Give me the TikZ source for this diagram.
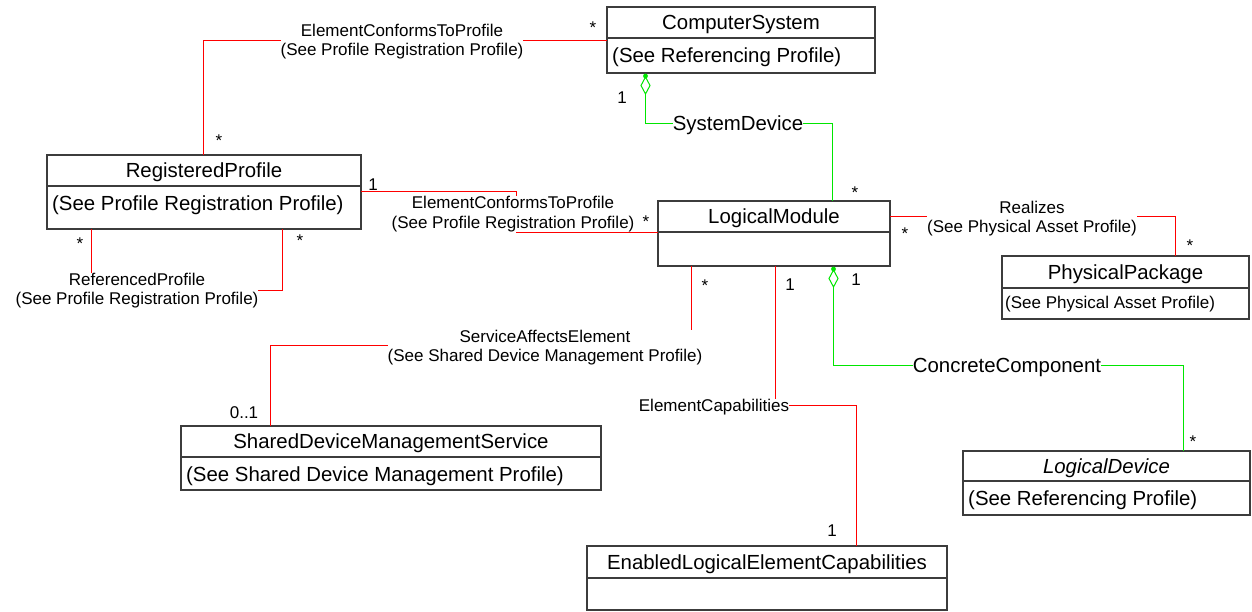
\documentclass[tikz,border=0pt]{standalone}
\usepackage{fontspec}
\setmainfont{Liberation Sans}
\usetikzlibrary{shapes.geometric,calc}

\definecolor{assocred}{RGB}{255,0,0}
\definecolor{aggreen}{RGB}{0,230,0}
\definecolor{boxline}{RGB}{60,60,60}

\tikzset{
  classhead/.style={draw=boxline, line width=1.1pt, fill=white, inner sep=0pt, outer sep=0pt,
    font=\fontsize{20.4pt}{24pt}\selectfont, text height=14.7pt, text depth=0pt},
  classbody/.style={draw=boxline, line width=1.1pt, fill=white, inner sep=0pt, outer sep=0pt},
  attrtext/.style={anchor=west, inner sep=0pt, font=\fontsize{20.4pt}{24pt}\selectfont,
    text height=14.7pt, text depth=0pt},
  attrsmall/.style={attrtext, font=\fontsize{17pt}{20pt}\selectfont, text height=12.2pt},
  assoc/.style={draw=assocred, line width=1.25pt},
  comp/.style={draw=aggreen, line width=1.25pt},
  aggdiamond/.style={shape=diamond, draw=aggreen, line width=1pt, fill=white,
    inner sep=0pt, outer sep=0pt, minimum width=9pt, minimum height=17pt},
  labtwo/.style={fill=white, inner sep=0pt, align=center, font=\fontsize{17pt}{19.5pt}\selectfont},
  labone/.style={fill=white, inner sep=0pt, font=\fontsize{17pt}{19.5pt}\selectfont,
    text height=12.2pt, text depth=0pt},
  labbig/.style={fill=white, inner sep=0pt, font=\fontsize{20.4pt}{24pt}\selectfont,
    text height=14.7pt, text depth=0pt},
  mult/.style={inner sep=0pt, font=\fontsize{17pt}{20pt}\selectfont, text height=12.2pt, text depth=0pt},
  multstar/.style={mult, yshift=-3.7pt},
}

% class box: name, left x, top y, width, header height, body height, title
\newcommand\classbox[7]{%
  \node[classhead, minimum width=#4pt, minimum height=#5pt, anchor=north west] (#1) at (#2,#3) {#7};
  \node[classbody, minimum width=#4pt, minimum height=#6pt, anchor=north west] (#1-a) at (#1.south west) {};
}

\begin{document}
\begin{tikzpicture}[x=1pt, y=-1pt]
  \fill[white] (0,0) rectangle (1252,611);
  \useasboundingbox (0,0) rectangle (1252,611);

  % classes
  \classbox{CS}{607}{7}{268}{31}{35}{ComputerSystem}
  \classbox{RP}{47}{155}{314}{31}{43}{RegisteredProfile}
  \classbox{LM}{658}{201}{232}{31}{34}{LogicalModule}
  \classbox{PP}{1002}{256}{247}{32}{31}{PhysicalPackage}
  \classbox{SDMS}{181}{426}{420}{31}{33}{SharedDeviceManagementService}
  \classbox{ELEC}{587}{546}{360}{32}{32}{EnabledLogicalElementCapabilities}
  \classbox{LD}{963}{451}{287}{30}{34}{\textit{LogicalDevice}}

  % attribute compartments
  \node[attrtext] (CS-t) at ([xshift=5pt,yshift=-17pt]CS-a.north west) {(See Referencing Profile)};
  \node[attrtext] (RP-t) at ([xshift=5pt,yshift=-17pt]RP-a.north west) {(See Profile Registration Profile)};
  \node[attrsmall] (PP-t) at ([xshift=3pt,yshift=-14pt]PP-a.north west) {(See Physical Asset Profile)};
  \node[attrtext] (SDMS-t) at ([xshift=5pt,yshift=-17pt]SDMS-a.north west) {(See Shared Device Management Profile)};
  \node[attrtext] (LD-t) at ([xshift=5pt,yshift=-17pt]LD-a.north west) {(See Referencing Profile)};

  % associations
  \draw[assoc] (CS.west |- 0,40.5) -| (203.5,0 |- RP.north);
  \draw[assoc] (RP.east |- 0,191.5) -| (516.5,232.5) -- (LM.west |- 0,232.5);
  \draw[assoc] (LM.east |- 0,216.5) -| (1175.5,0 |- PP.north);
  \draw[assoc] (91.5,0 |- RP-a.south) |- (282.5,290.5) -- (282.5,0 |- RP-a.south);
  \draw[assoc] (691.5,0 |- LM-a.south) |- (270.5,345.5) -- (270.5,0 |- SDMS.north);
  \draw[assoc] (775.5,0 |- LM-a.south) |- (856.5,405.5) -- (856.5,0 |- ELEC.north);

  % aggregations
  \node[aggdiamond, anchor=north, yshift=-4pt] (CS-agg) at (645.5,0 |- CS-a.south) {};
  \fill[aggreen] ($(CS-agg.north)+(0,-1)$) circle[radius=2.4pt];
  \coordinate (sd-corner) at (832.5,123.5);
  \draw[comp] (CS-agg.south) |- (sd-corner) -- (sd-corner |- LM.north);

  \node[aggdiamond, anchor=north, yshift=-4pt] (LM-agg) at (833.5,0 |- LM-a.south) {};
  \fill[aggreen] ($(LM-agg.north)+(0,-1)$) circle[radius=2.4pt];
  \coordinate (cc-corner) at (1183.5,365.5);
  \draw[comp] (LM-agg.south) |- (cc-corner) -- (cc-corner |- LD.north);

  % association names
  \node[labtwo] (l-ectp1) at (402,41.8) {ElementConformsToProfile\\(See Profile Registration Profile)};
  \node[labtwo] (l-ectp2) at (513,214) {ElementConformsToProfile\\(See Profile Registration Profile)};
  \node[labtwo] (l-real) at (1032,218.4) {Realizes\\(See Physical Asset Profile)};
  \node[labtwo] (l-ref) at (137,290.8) {ReferencedProfile\\(See Profile Registration Profile)};
  \node[labtwo] (l-sae) at (545,347.8) {ServiceAffectsElement\\(See Shared Device Management Profile)};
  \node[labbig] (l-sd) at (738,123.5) {SystemDevice};
  \node[labbig] (l-cc) at (1007,365.5) {ConcreteComponent};
  \node[labone] (l-ec) at (714,405.5) {ElementCapabilities};

  % multiplicities
  \node[multstar] (m-cs1) at (593,24) {*};
  \node[multstar] (m-rp1) at (219,137) {*};
  \node[mult] (m-rp2) at (373,184) {1};
  \node[multstar] (m-lm2) at (646,218) {*};
  \node[mult] (m-cs2) at (622,97) {1};
  \node[multstar] (m-lm3) at (855,189) {*};
  \node[multstar] (m-lm4) at (905,230) {*};
  \node[multstar] (m-pp) at (1190,242) {*};
  \node[multstar] (m-rp3) at (80,240) {*};
  \node[multstar] (m-rp4) at (300,237) {*};
  \node[multstar] (m-lm5) at (705,282) {*};
  \node[mult] (m-sdms) at (244,412) {0..1};
  \node[mult] (m-lm6) at (790,284) {1};
  \node[mult] (m-elec) at (832,530) {1};
  \node[mult] (m-lm7) at (856,279) {1};
  \node[multstar] (m-ld) at (1193,438) {*};
\end{tikzpicture}
\end{document}
